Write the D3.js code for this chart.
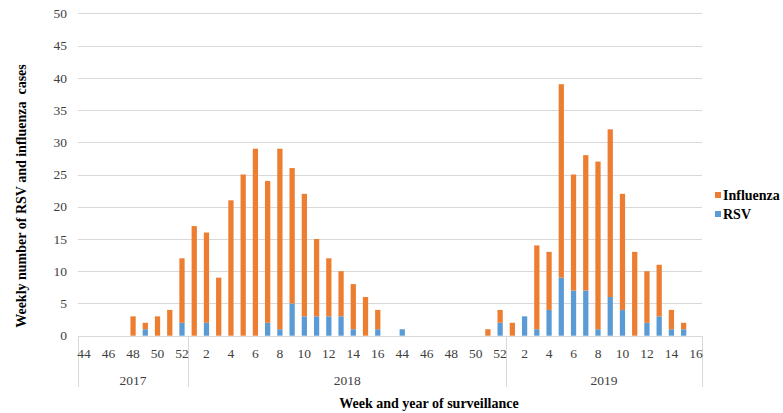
<!DOCTYPE html>
<html>
<head>
<meta charset="utf-8">
<script src="https://cdn.jsdelivr.net/npm/d3@7"></script>
<style>
  html, body { margin: 0; padding: 0; background: #fff; }
  svg, svg text { font-family: "Liberation Serif", "Times New Roman", Times, Tinos, "DejaVu Serif", serif; }
  svg { display: block; }
</style>
</head>
<body>
<svg id="chart" width="783" height="413"></svg>
<script>
// ---- Data ----
const weeks = [44,45,46,47,48,49,50,51,52,
  1,2,3,4,5,6,7,8,9,10,11,12,13,14,15,16,43,44,45,46,47,48,49,50,51,52,
  1,2,3,4,5,6,7,8,9,10,11,12,13,14,15,16];
const years = ["2017","2018","2019"];
const yearCounts = [9, 26, 16];
const rsv = [0,0,0,0,0,1,0,0,2,
  0,2,0,0,0,0,2,1,5,3,3,3,3,1,0,1,0,1,0,0,0,0,0,0,0,2,
  0,3,1,4,9,7,7,1,6,4,0,2,3,1,1,0];
const influenza = [0,0,0,0,3,1,3,4,10,
  17,14,9,21,25,29,22,28,21,19,12,9,7,7,6,3,0,0,0,0,0,0,0,0,1,2,
  2,0,13,9,30,18,21,26,26,18,13,8,8,3,1,0];
const seriesNames = ["Influenza","RSV"];
const colors = {RSV: "#5B9BD5", Influenza: "#ED7D31"};
const yTicks = [0,5,10,15,20,25,30,35,40,45,50];

// ---- Layout ----
(function () {
const FONT = '"Liberation Serif", "Times New Roman", Times, Tinos, "DejaVu Serif", serif';
const svg = d3.select("#chart").attr("font-family", FONT);
const pLeft = 78, pRight = 702, pTop = 13.3, pBottom = 335.7;
const idx = d3.range(weeks.length);
const x = d3.scaleBand().domain(idx).range([pLeft, pRight]).paddingInner(0.57).paddingOuter(0.285);
const y = d3.scaleLinear().domain([0, 50]).range([pBottom, pTop]);
const grid = "#d9d9d9";
const tickSize = 13.5, titleSize = 14;

// gridlines
svg.append("g").selectAll("line").data(yTicks).join("line")
  .attr("x1", pLeft).attr("x2", pRight)
  .attr("y1", d => Math.round(y(d)) + 0.5).attr("y2", d => Math.round(y(d)) + 0.5)
  .attr("stroke", grid).attr("stroke-width", 1);

// y tick labels
svg.append("g").selectAll("text").data(yTicks).join("text")
  .attr("x", 67).attr("y", d => y(d)).attr("dy", "0.35em")
  .attr("text-anchor", "end").attr("font-size", tickSize).attr("fill", "#404040")
  .attr("font-family", FONT)
  .text(d => d);

// stacked bars
const rows = idx.map(i => ({i, RSV: rsv[i], Influenza: influenza[i]}));
const stack = d3.stack().keys(["RSV","Influenza"])(rows);
svg.append("g").selectAll("g").data(stack).join("g")
  .attr("fill", s => colors[s.key])
  .selectAll("rect").data(s => s.filter(d => d[1] - d[0] > 0)).join("rect")
  .attr("x", d => x(d.data.i)).attr("width", x.bandwidth())
  .attr("y", d => y(d[1])).attr("height", d => y(d[0]) - y(d[1]));

// group dividers
const step = x.step();
const boundaries = [0];
let acc = 0;
yearCounts.forEach(c => { acc += c; boundaries.push(acc); });
svg.append("g").selectAll("line").data(boundaries).join("line")
  .attr("x1", b => Math.round(pLeft + b * step) + 0.5).attr("x2", b => Math.round(pLeft + b * step) + 0.5)
  .attr("y1", pBottom).attr("y2", 387)
  .attr("stroke", grid).attr("stroke-width", 1);

// week labels (every second)
svg.append("g").selectAll("text").data(idx.filter(i => i % 2 === 0)).join("text")
  .attr("x", i => x(i) + x.bandwidth() / 2).attr("y", 353).attr("dy", "0.35em")
  .attr("text-anchor", "middle").attr("font-size", tickSize).attr("fill", "#404040")
  .attr("font-family", FONT)
  .text(i => weeks[i]);

// year labels
svg.append("g").selectAll("text").data(years).join("text")
  .attr("x", (d, k) => pLeft + (boundaries[k] + boundaries[k + 1]) / 2 * step)
  .attr("y", 380).attr("dy", "0.35em")
  .attr("text-anchor", "middle").attr("font-size", tickSize).attr("fill", "#404040")
  .attr("font-family", FONT)
  .text(d => d);

// axis titles
svg.append("text")
  .attr("transform", "translate(21,196) rotate(-90)")
  .attr("text-anchor", "middle").attr("dy", "0.35em")
  .attr("font-size", titleSize).attr("font-weight", "bold").attr("fill", "#000")
  .attr("font-family", FONT)
  .style("white-space", "pre")
  .text("Weekly number of RSV and influenza  cases");
svg.append("text")
  .attr("x", 429).attr("y", 403).attr("dy", "0.35em")
  .attr("text-anchor", "middle")
  .attr("font-size", titleSize).attr("font-weight", "bold").attr("fill", "#000")
  .attr("font-family", FONT)
  .text("Week and year of surveillance");

// legend
const lg = svg.append("g").selectAll("g").data(seriesNames).join("g")
  .attr("transform", (d, k) => `translate(715,${195 + k * 19})`);
lg.append("rect").attr("x", 0).attr("y", -3).attr("width", 6).attr("height", 6)
  .attr("fill", d => colors[d]);
lg.append("text").attr("x", 8).attr("y", 0).attr("dy", "0.35em")
  .attr("font-size", titleSize).attr("font-weight", "bold").attr("fill", "#000")
  .attr("font-family", FONT)
  .text(d => d);
})();
</script>
</body>
</html>
